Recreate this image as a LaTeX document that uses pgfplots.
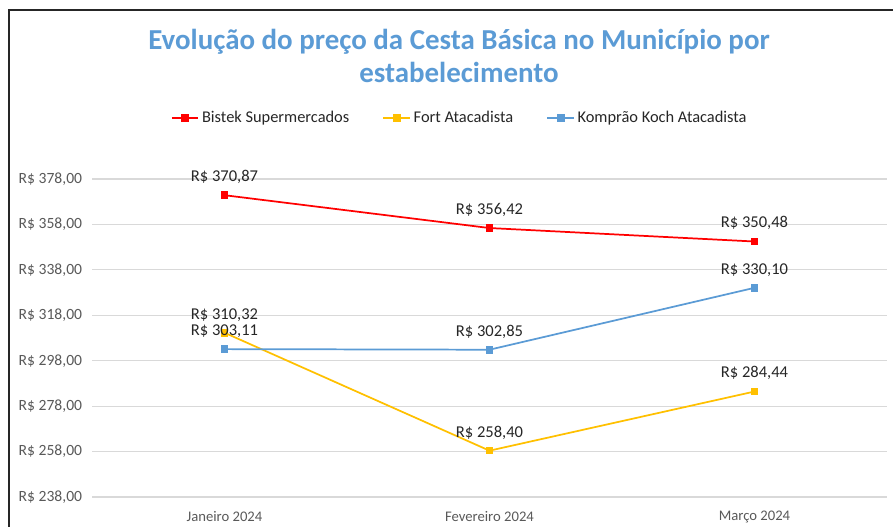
\documentclass[border=0pt]{standalone}
\usepackage{pgfplots}
\pgfplotsset{compat=1.18}
\usepackage{fontspec}
\setmainfont{Carlito}
\definecolor{cred}{HTML}{FF0000}
\definecolor{cyel}{HTML}{FFC000}
\definecolor{cblue}{HTML}{5B9BD5}
\definecolor{ctitle}{HTML}{5B9BD5}
\definecolor{ctick}{HTML}{595959}
\definecolor{cgrid}{HTML}{D9D9D9}
\definecolor{clab}{HTML}{262626}
\begin{document}
\begin{tikzpicture}[x=0.75pt,y=-0.75pt]
\useasboundingbox (0,0) rectangle (893,526);
\draw[line width=1.4pt, black!85] (9,530) -- (9,10) -- (897,10);
\node[font=\fontsize{21.7}{26}\selectfont\bfseries, text=ctitle] at (459,42) {Evolução do preço da Cesta Básica no Município por};
\node[font=\fontsize{21.7}{26}\selectfont\bfseries, text=ctitle] at (459,72) {estabelecimento};
\begin{axis}[
  at={(69pt,-372.75pt)}, anchor=south west,
  width=596.25pt, height=238.5pt, scale only axis,
  xmin=-0.5, xmax=2.5, ymin=238, ymax=378,
  xtick={0,1,2}, xticklabels={Janeiro 2024, Fevereiro 2024, Março 2024},
  ytick={238,258,...,378},
  /pgf/number format/assume math mode=true,
  yticklabel={R\$ \pgfmathprintnumber[fixed,fixed zerofill,precision=2,use comma]{\tick}},
  ticklabel style={font=\fontsize{11}{13}\selectfont, text=ctick},
  yticklabel style={anchor=east, inner sep=0pt, xshift=-7.25pt, font=\fontsize{11.7}{13}\selectfont},
  xticklabel style={anchor=north, inner sep=0pt, yshift=-10.5pt},
  major tick length=0pt,
  axis line style={draw=none},
  ymajorgrids, major grid style={cgrid, line width=0.9pt},
  point meta=y,
  nodes near coords={R\$ \pgfmathprintnumber[fixed,fixed zerofill,precision=2,use comma]{\pgfplotspointmeta}},
  every node near coord/.append style={font=\fontsize{12.4}{14}\selectfont, text=clab, anchor=south, inner sep=0pt, yshift=8pt},
  legend columns=3,
  legend style={draw=none, fill=none, at={(0.463,1.192)}, anchor=center,
    font=\fontsize{12.3}{14}\selectfont, text=clab,
    /tikz/every even column/.append style={column sep=23pt}},
  legend image code/.code={\draw[mark repeat=2,mark phase=2,#1] plot coordinates {(0pt,0pt) (10pt,0pt) (20pt,0pt)};},
  legend cell align=left,
  clip=false,
]
\addplot[cred, line width=1.3pt, mark=square*, mark size=2.2pt] coordinates {(0,370.87) (1,356.42) (2,350.48)};
\addlegendentry{Bistek Supermercados}
\addplot[cyel, line width=1.3pt, mark=square*, mark size=2.2pt] coordinates {(0,310.32) (1,258.40) (2,284.44)};
\addlegendentry{Fort Atacadista}
\addplot[cblue, line width=1.3pt, mark=square*, mark size=2.2pt] coordinates {(0,303.11) (1,302.85) (2,330.10)};
\addlegendentry{Komprão Koch Atacadista}
\end{axis}
\end{tikzpicture}
\end{document}
